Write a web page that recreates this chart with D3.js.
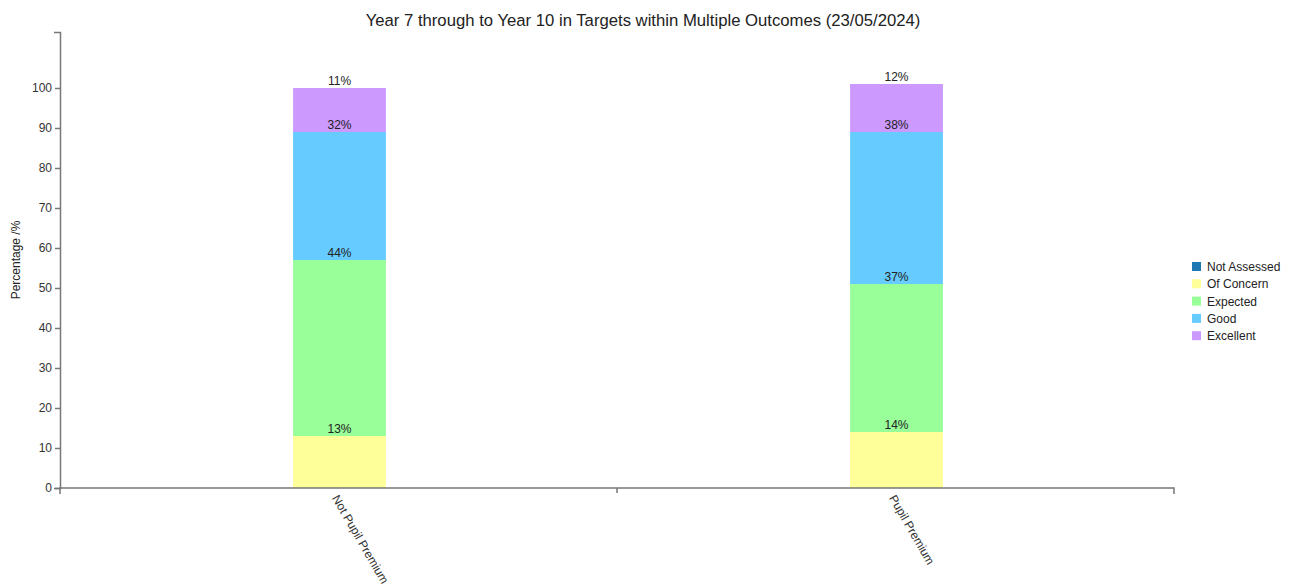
<!DOCTYPE html>
<html>
<head>
<meta charset="utf-8">
<script src="https://cdn.jsdelivr.net/npm/d3@7"></script>
<style>
    body { margin: 0; background: #fff; font-family: "Liberation Sans", Arial, sans-serif; }
    .axis path, .axis line { stroke: #777; stroke-width: 1.5; }
    .axis text { font-size: 12px; fill: #333; }
</style>
</head>
<body>
<div id="chart"></div>
<script>
// categories and series
const groups = ["Not Pupil Premium", "Pupil Premium"];
const outcomes = ["Not Assessed", "Of Concern", "Expected", "Good", "Excellent"];
const notAssessed = [0, 0];
const ofConcern = [13, 14];
const expected = [44, 37];
const good = [32, 38];
const excellent = [11, 12];
const yTicks = [0, 10, 20, 30, 40, 50, 60, 70, 80, 90, 100];

const colors = {
    "Not Assessed": "#1f77b4",
    "Of Concern": "#ffff99",
    "Expected": "#99ff99",
    "Good": "#66ccff",
    "Excellent": "#cc99ff"
};

let W = 1292, H = 584;
let margin = {top: 32, right: 118, bottom: 96, left: 60};
let width = W - margin.left - margin.right;
let height = H - margin.top - margin.bottom;

let svg = d3.select("#chart").append("svg")
    .attr("width", W)
    .attr("height", H);

// title
svg.append("text")
    .attr("x", 643)
    .attr("y", 26)
    .attr("text-anchor", "middle")
    .style("font-size", "16.7px")
    .style("fill", "#222")
    .text("Year 7 through to Year 10 in Targets within Multiple Outcomes (23/05/2024)");

let g = svg.append("g")
    .attr("transform", `translate(${margin.left},${margin.top})`);

// build rows for stack
let rows = groups.map((name, i) => ({
    name: name,
    "Not Assessed": notAssessed[i],
    "Of Concern": ofConcern[i],
    "Expected": expected[i],
    "Good": good[i],
    "Excellent": excellent[i]
}));

let series = d3.stack().keys(outcomes)(rows);

let x = d3.scaleBand()
    .domain(groups)
    .range([0, width]);

let y = d3.scaleLinear()
    .domain([0, 114])
    .range([height, 0]);

let barWidth = x.bandwidth() / 6;

// bars
let layer = g.selectAll(".bar-group")
    .data(series)
    .enter().append("g")
    .attr("class", "bar-group")
    .style("fill", d => colors[d.key]);

layer.selectAll("rect")
    .data(d => d)
    .enter().append("rect")
    .attr("x", d => x(d.data.name) + x.bandwidth() / 2 - barWidth / 2 + 1)
    .attr("y", d => y(d[1]))
    .attr("height", d => y(d[0]) - y(d[1]))
    .attr("width", barWidth);

// value labels at top of each segment
series.forEach(s => {
    g.selectAll(null)
        .data(s.filter(d => d[1] - d[0] > 0))
        .enter().append("text")
        .attr("x", d => x(d.data.name) + x.bandwidth() / 2 + 1)
        .attr("y", d => y(d[1]) - 3)
        .attr("text-anchor", "middle")
        .style("font-size", "12px")
        .style("fill", "#222")
        .text(d => (d[1] - d[0]) + "%");
});

// y axis
g.append("g")
    .attr("class", "axis y-axis")
    .call(d3.axisLeft(y).tickValues(yTicks).tickSize(5).tickSizeOuter(6));

// x axis: ticks at band edges, labels at band centres
let xAxis = g.append("g")
    .attr("class", "axis x-axis")
    .attr("transform", `translate(0,${height})`);

xAxis.append("path")
    .attr("d", `M0,6V0H${width}V6`)
    .attr("fill", "none");

xAxis.selectAll(".tick-line")
    .data(groups.slice(1))
    .enter().append("line")
    .attr("x1", d => x(d)).attr("x2", d => x(d))
    .attr("y1", 0).attr("y2", 5);

xAxis.selectAll(".tick-label")
    .data(groups)
    .enter().append("text")
    .attr("transform", d => `translate(${x(d) + x.bandwidth() / 2 - 3},${8}) rotate(60)`)
    .attr("dy", "0.35em")
    .attr("text-anchor", "start")
    .text(d => d);

// y label
svg.append("text")
    .attr("transform", `translate(20,${margin.top + height / 2}) rotate(-90)`)
    .attr("text-anchor", "middle")
    .style("font-size", "12px")
    .style("fill", "#222")
    .text("Percentage /%");

// legend
let legend = svg.append("g")
    .attr("transform", "translate(1192,262)");

let items = legend.selectAll(".legend-item")
    .data(outcomes)
    .enter().append("g")
    .attr("transform", (d, i) => `translate(0,${i * 17.3})`);

items.append("rect")
    .attr("width", 9).attr("height", 9)
    .style("fill", d => colors[d]);

items.append("text")
    .attr("x", 15)
    .attr("y", 9)
    .style("font-size", "12px")
    .style("fill", "#222")
    .text(d => d);
</script>
</body>
</html>
